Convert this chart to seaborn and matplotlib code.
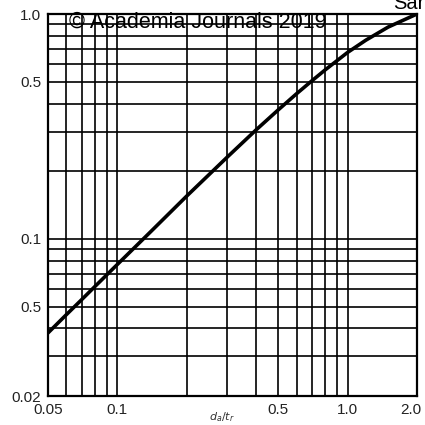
import matplotlib
matplotlib.use("Agg")
import matplotlib.pyplot as plt
import matplotlib.transforms as mtransforms
import numpy as np
import pandas as pd
import seaborn as sns
from matplotlib.ticker import FixedLocator, NullFormatter

# curve (log-log)
ratio = [0.05, 0.06, 0.07, 0.08, 0.1, 0.14, 0.2, 0.3, 0.4, 0.5,
         0.6, 0.7, 0.8, 1.0, 1.2, 1.5, 2.0]
value = [0.0382, 0.046, 0.0537, 0.0615, 0.077, 0.108, 0.155, 0.231, 0.305, 0.375,
         0.442, 0.505, 0.565, 0.675, 0.765, 0.875, 1.0]

x_major = [0.05, 0.1, 0.5, 1.0, 2.0]
x_major_labels = ['0.05', '0.1', '0.5', '1.0', '2.0']
x_grid = [0.05, 0.06, 0.07, 0.08, 0.09, 0.1, 0.2, 0.3, 0.4, 0.5,
          0.6, 0.7, 0.8, 0.9, 1.0, 2.0]

y_major = [0.02, 0.05, 0.1, 0.5, 1.0]
y_major_labels = ['0.02', '0.5', '0.1', '0.5', '1.0']
y_grid = [0.02, 0.03, 0.04, 0.05, 0.06, 0.07, 0.08, 0.09, 0.1,
          0.2, 0.3, 0.4, 0.5, 0.6, 0.7, 0.8, 0.9, 1.0]

sns.set_style("white")
plt.rcParams['font.family'] = ['Liberation Sans', 'DejaVu Sans']

df = pd.DataFrame({'ratio': ratio, 'value': value})

fig = plt.figure(figsize=(4.25, 4.25), dpi=100)
ax = fig.add_axes([0.113, 0.068, 0.868, 0.899])

ax.set_xscale('log')
ax.set_yscale('log')
ax.set_xlim(0.05, 2.0)
ax.set_ylim(0.02, 1.0)

for gx in x_grid:
    ax.axvline(gx, color='black', lw=1.2, zorder=1)
for gy in y_grid:
    ax.axhline(gy, color='black', lw=1.2, zorder=1)

sns.lineplot(data=df, x='ratio', y='value', color='black', lw=2.6, ax=ax, zorder=3)

ax.xaxis.set_major_locator(FixedLocator(x_major))
ax.xaxis.set_minor_locator(FixedLocator([]))
ax.set_xticklabels(x_major_labels)
ax.xaxis.set_minor_formatter(NullFormatter())
ax.yaxis.set_major_locator(FixedLocator(y_major))
ax.yaxis.set_minor_locator(FixedLocator([]))
ax.set_yticklabels(y_major_labels)
ax.yaxis.set_minor_formatter(NullFormatter())

ax.tick_params(axis='both', which='major', direction='out', length=4, width=1.2,
               color='black', labelsize=11, labelcolor='#222222', pad=1)

# the last x label sits a little left of its tick in the scan
last = ax.get_xticklabels()[-1]
last.set_transform(last.get_transform() +
                   mtransforms.ScaledTranslation(-6 / 100, 0, fig.dpi_scale_trans))

for s in ax.spines.values():
    s.set_color('black')
    s.set_linewidth(1.6)

ax.set_xlabel('')
ax.set_ylabel('')
fig.text(222 / 425, 1 - 417 / 425, '$d_a/t_r$', fontsize=8, color='#333333',
         ha='center', va='center')

fig.text(0.466, 0.947, '\u00a9 Academia Journals 2019', fontsize=15.5,
         ha='center', va='center', color='black')
fig.text(0.925, 0.978, 'Sar', fontsize=14.5, ha='left', va='baseline', color='black')

fig.savefig('out.png', dpi=100)
